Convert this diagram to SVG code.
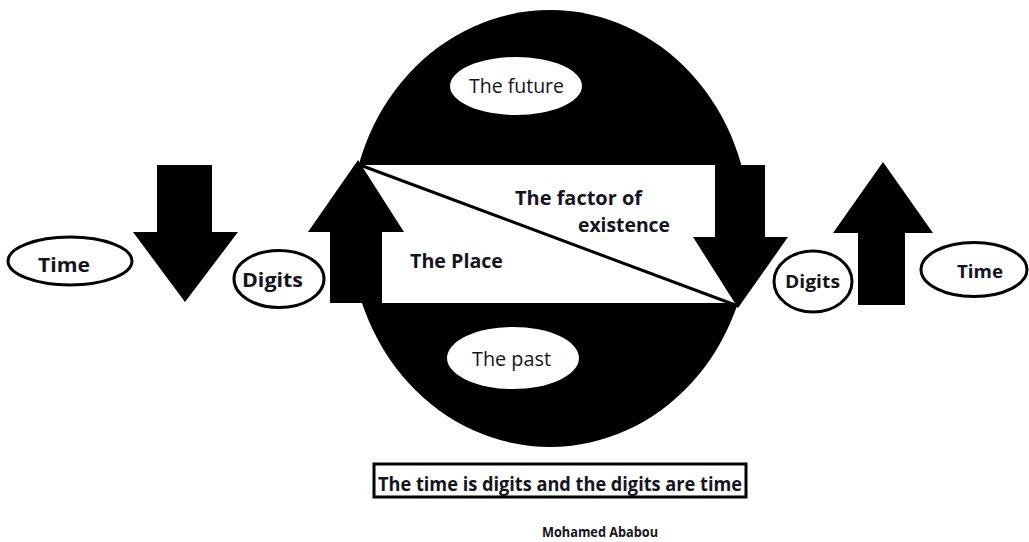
<svg xmlns="http://www.w3.org/2000/svg" width="1029" height="542" viewBox="0 0 1029 542">
<style>
.lbl{font-family:"Open Sans","Liberation Sans",sans-serif;fill:#141420}
.b{font-weight:bold}
.oval{fill:#fff;stroke:#000;stroke-width:3}
.blk{fill:#000}
</style>
<rect width="1029" height="542" fill="#fff"/>
<g id="globe">
<ellipse cx="550" cy="228.5" rx="200" ry="218.5" class="blk"/>
</g>
<g id="place">
<rect x="357" y="165" width="383" height="138" fill="#fff"/>
<text class="lbl b" x="410" y="268" font-size="19" textLength="93" lengthAdjust="spacingAndGlyphs">The Place</text>
<text class="lbl b" x="515" y="205" font-size="19" textLength="127" lengthAdjust="spacingAndGlyphs">The factor of</text>
<text class="lbl b" x="578" y="232" font-size="19" textLength="92" lengthAdjust="spacingAndGlyphs">existence</text>
</g>
<g id="future">
<ellipse cx="516" cy="86" rx="66" ry="29" fill="#fff"/>
<text class="lbl" x="469" y="93" font-size="20" textLength="95" lengthAdjust="spacingAndGlyphs">The future</text>
</g>
<g id="past">
<ellipse cx="513" cy="358" rx="66" ry="31" fill="#fff"/>
<text class="lbl" x="472" y="366" font-size="20" textLength="79" lengthAdjust="spacingAndGlyphs">The past</text>
</g>
<g id="connectors">
<line x1="360" y1="165" x2="738" y2="306" stroke="#000" stroke-width="3"/>
<polygon class="blk" points="157,165 212,165 212,232 238,232 185,302 133,232 157,232"/>
<polygon class="blk" points="330,303 382,303 382,232 404,232 358,160 308,232 330,232"/>
<polygon class="blk" points="715,165 765,165 765,237 788,237 738,308 693,237 715,237"/>
<polygon class="blk" points="858,305 905,305 905,233 933,233 883,162 833,233 858,233"/>
</g>
<g id="time-left">
<ellipse cx="70" cy="261" rx="62" ry="24" class="oval"/>
<text class="lbl b" x="38" y="272" font-size="19" textLength="52" lengthAdjust="spacingAndGlyphs">Time</text>
</g>
<g id="digits-left">
<ellipse cx="279" cy="279" rx="45" ry="28.5" class="oval"/>
<text class="lbl b" x="242" y="287" font-size="19" textLength="61" lengthAdjust="spacingAndGlyphs">Digits</text>
</g>
<g id="digits-right">
<ellipse cx="813" cy="281.5" rx="39" ry="30.5" class="oval"/>
<text class="lbl b" x="785" y="288" font-size="18" textLength="55" lengthAdjust="spacingAndGlyphs">Digits</text>
</g>
<g id="time-right">
<ellipse cx="974" cy="269.5" rx="53" ry="27" class="oval"/>
<text class="lbl b" x="957" y="278" font-size="18" textLength="46" lengthAdjust="spacingAndGlyphs">Time</text>
</g>
<g id="caption">
<rect x="374" y="464" width="372" height="33" fill="#fff" stroke="#000" stroke-width="3"/>
<text class="lbl b" x="378" y="491" font-size="20" textLength="364" lengthAdjust="spacingAndGlyphs">The time is digits and the digits are time</text>
</g>
<g id="author">
<text class="lbl b" x="542" y="537" font-size="14" textLength="116" lengthAdjust="spacingAndGlyphs">Mohamed Ababou</text>
</g>
</svg>
